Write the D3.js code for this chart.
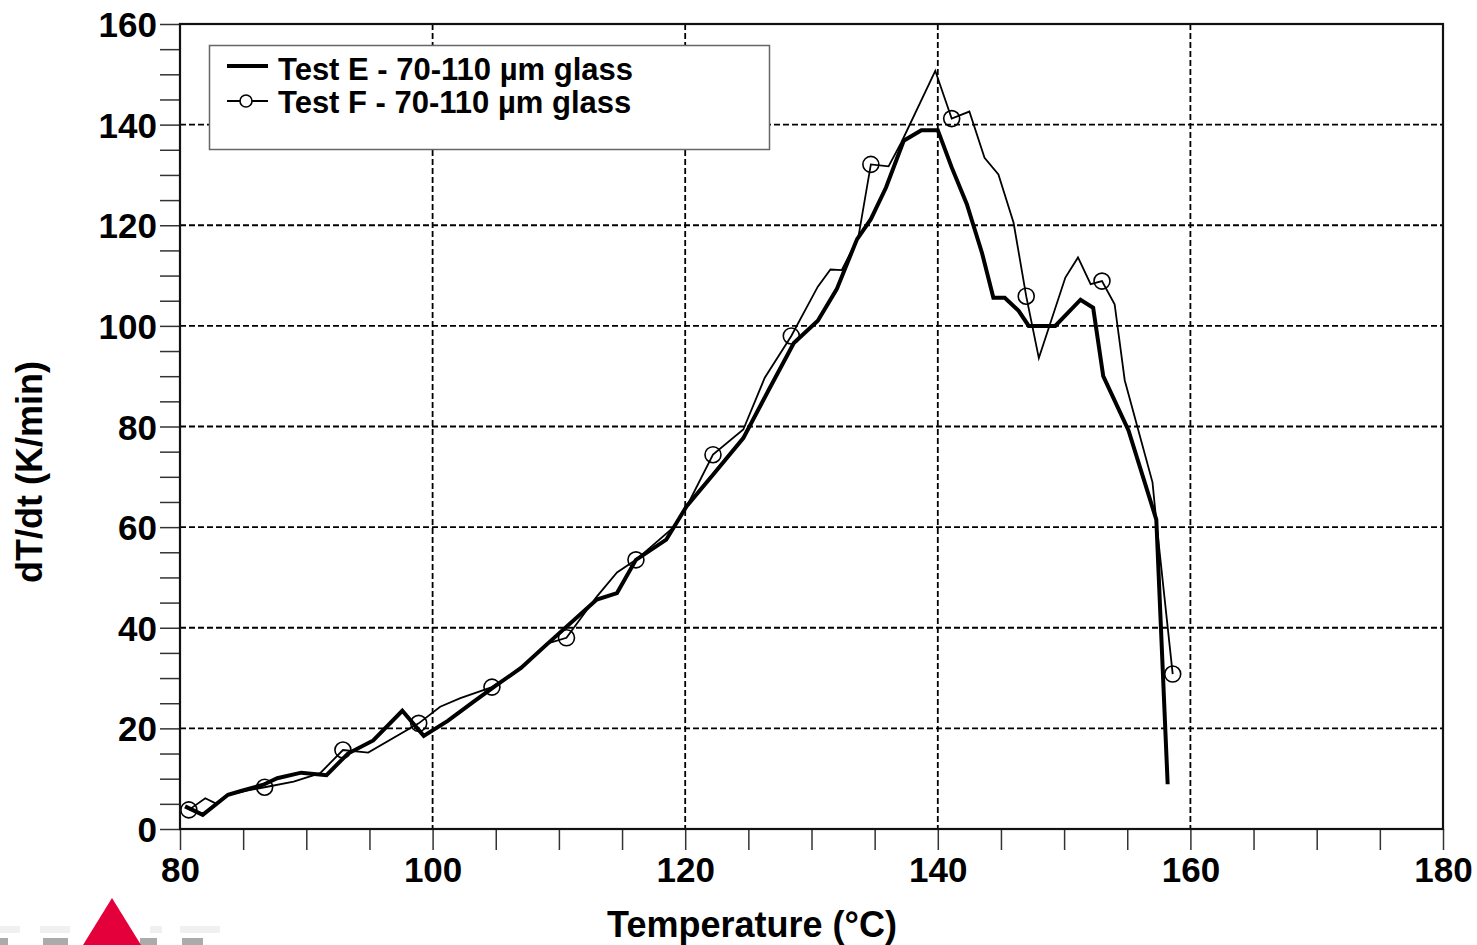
<!DOCTYPE html>
<html>
<head>
<meta charset="utf-8">
<script src="https://cdn.jsdelivr.net/npm/d3@7"></script>
<style>
    body { margin: 0; background: #fff; }
    svg { display: block; font-family: 'Liberation Sans', Arial, sans-serif; font-weight: bold; }
</style>
</head>
<body>
<div class="chart"></div>
<script>
(function () {
    // Test E (thick line)
    const eTemp = [80.4, 81.8, 83.8, 84.9, 86.6, 87.7, 89.6, 91.6, 93.3, 95.3, 97.6, 99.3, 101.2, 103.2, 105.0, 107.0, 109.0, 113.0, 114.6, 116.1, 118.5, 120.1, 122.2, 124.6, 126.6, 128.6, 130.5, 132.0, 133.6, 134.7, 135.9, 137.3, 138.7, 140.0, 141.1, 142.3, 143.5, 144.4, 145.3, 146.4, 147.2, 149.3, 151.3, 152.3, 153.1, 155.1, 157.3, 158.2];
    const eRate = [4.5, 2.8, 6.8, 7.6, 8.8, 10.1, 11.2, 10.7, 15.0, 17.6, 23.5, 18.5, 21.5, 25.2, 28.5, 32.0, 36.6, 45.6, 46.9, 53.5, 57.5, 64.1, 70.4, 77.7, 87.2, 96.6, 101.0, 107.3, 117.2, 121.2, 127.5, 136.8, 138.9, 138.9, 131.5, 124.2, 114.5, 105.6, 105.6, 103.0, 100.0, 100.0, 105.2, 103.6, 90.0, 79.2, 61.5, 8.9];

    // Test F (thin line, circle on some points)
    const fTemp = [80.7, 82.0, 82.9, 83.8, 85.2, 86.7, 89.0, 91.1, 92.9, 94.9, 98.9, 100.6, 102.2, 104.7, 107.0, 109.0, 110.6, 113.0, 114.6, 116.1, 119.0, 120.1, 122.2, 124.6, 126.3, 128.4, 130.5, 131.5, 132.4, 133.7, 134.7, 136.1, 137.1, 139.8, 141.1, 142.5, 143.7, 144.8, 146.0, 147.0, 148.0, 150.1, 151.1, 152.1, 153.0, 154.0, 154.8, 157.0, 157.3, 158.6];
    const fRate = [3.8, 6.1, 5.0, 6.8, 7.6, 8.3, 9.4, 11.1, 15.7, 15.2, 21.0, 24.3, 26.0, 28.2, 32.0, 36.8, 38.0, 46.2, 51.0, 53.5, 59.8, 64.0, 74.4, 79.4, 89.7, 98.0, 107.8, 111.2, 111.1, 117.5, 132.1, 131.7, 136.4, 150.7, 141.2, 142.6, 133.4, 130.1, 120.5, 105.9, 93.6, 109.6, 113.6, 108.3, 108.9, 104.3, 89.2, 68.9, 61.2, 30.8];
    const fMarked = [0, 5, 8, 10, 13, 16, 19, 22, 25, 30, 34, 39, 44, 49];

    const xTicks = d3.range(80, 181, 5);
    const yTicks = d3.range(0, 161, 5);
    const legendLabels = ['Test E - 70-110 µm glass', 'Test F - 70-110 µm glass'];

    const width = 1477, height = 945;
    const plot = { left: 180, right: 1443, top: 24, bottom: 829 };

    const x = d3.scaleLinear().domain([80, 180]).range([plot.left, plot.right]);
    const y = d3.scaleLinear().domain([0, 160]).range([plot.bottom, plot.top]);

    const svg = d3.select('.chart').append('svg')
        .attr('width', width)
        .attr('height', height);

    // logo in the corner (red triangle with greyed lettering)
    const logo = svg.append('g').classed('logo', true);
    [[0, 8], [43, 25], [140, 17], [182, 21]].forEach(function (r) {
        logo.append('rect')
            .attr('x', r[0]).attr('y', 938)
            .attr('width', r[1]).attr('height', 7)
            .attr('fill', '#888').attr('opacity', 0.7);
    });
    [[0, 20], [40, 30], [150, 12], [180, 40]].forEach(function (r) {
        logo.append('rect')
            .attr('x', r[0]).attr('y', 926)
            .attr('width', r[1]).attr('height', 7)
            .attr('fill', '#e6e6e6').attr('opacity', 0.6);
    });
    logo.append('path')
        .attr('d', 'M112,898 L141,945 L83,945 Z')
        .attr('fill', '#e4003a');

    // grid
    const grid = svg.append('g').classed('grid', true)
        .attr('stroke', '#000')
        .attr('stroke-width', 1.8)
        .attr('stroke-dasharray', '6,3');
    grid.selectAll('line.gx')
        .data([100, 120, 140, 160])
        .join('line')
        .attr('x1', d => x(d)).attr('x2', d => x(d))
        .attr('y1', plot.top).attr('y2', plot.bottom);
    grid.selectAll('line.gy')
        .data([20, 40, 60, 80, 100, 120, 140])
        .join('line')
        .attr('class', 'gy')
        .attr('x1', plot.left).attr('x2', plot.right)
        .attr('y1', d => y(d)).attr('y2', d => y(d));

    // axes
    const xAxis = d3.axisBottom(x)
        .tickValues(xTicks)
        .tickSize(21)
        .tickPadding(7)
        .tickFormat(d => d % 20 === 0 ? d : '');
    const yAxis = d3.axisLeft(y)
        .tickValues(yTicks)
        .tickSize(20)
        .tickPadding(3)
        .tickFormat(d => d % 20 === 0 ? d : '');

    const gx = svg.append('g')
        .attr('transform', `translate(0,${plot.bottom})`)
        .call(xAxis);
    const gy = svg.append('g')
        .attr('transform', `translate(${plot.left},0)`)
        .call(yAxis);

    [gx, gy].forEach(function (g) {
        g.select('.domain').remove();
        g.selectAll('.tick line').attr('stroke', '#333').attr('stroke-width', 1.5);
        g.selectAll('.tick text')
            .attr('fill', '#000')
            .style('font-size', '35px')
            .style('font-family', "'Liberation Sans', Arial, sans-serif")
            .style('font-weight', 'bold');
    });
    gy.selectAll('.tick text').attr('dy', '0.36em');

    // series
    const line = d3.line().x(d => x(d[0])).y(d => y(d[1]));
    const eData = eTemp.map((t, i) => [t, eRate[i]]);
    const fData = fTemp.map((t, i) => [t, fRate[i]]);

    svg.append('path')
        .datum(fData)
        .attr('fill', 'none')
        .attr('stroke', '#000')
        .attr('stroke-width', 1.8)
        .attr('d', line);

    svg.append('path')
        .datum(eData)
        .attr('fill', 'none')
        .attr('stroke', '#000')
        .attr('stroke-width', 4)
        .attr('d', line);

    svg.append('g').selectAll('circle')
        .data(fMarked.map(i => fData[i]))
        .join('circle')
        .attr('cx', d => x(d[0]))
        .attr('cy', d => y(d[1]))
        .attr('r', 8)
        .attr('fill', 'none')
        .attr('stroke', '#000')
        .attr('stroke-width', 1.6);

    // frame
    svg.append('rect')
        .attr('x', plot.left).attr('y', plot.top)
        .attr('width', plot.right - plot.left)
        .attr('height', plot.bottom - plot.top)
        .attr('fill', 'none')
        .attr('stroke', '#111')
        .attr('stroke-width', 2.2);

    // legend
    const legend = svg.append('g').classed('legend', true);
    legend.append('rect')
        .attr('x', 209.5).attr('y', 45.5)
        .attr('width', 560).attr('height', 104)
        .attr('fill', '#fff')
        .attr('stroke', '#666')
        .attr('stroke-width', 1.5);
    legend.append('line')
        .attr('x1', 227).attr('x2', 268)
        .attr('y1', 66).attr('y2', 66)
        .attr('stroke', '#000').attr('stroke-width', 4);
    legend.append('line')
        .attr('x1', 227).attr('x2', 268)
        .attr('y1', 101).attr('y2', 101)
        .attr('stroke', '#000').attr('stroke-width', 1.8);
    legend.append('circle')
        .attr('cx', 246).attr('cy', 101).attr('r', 6)
        .attr('fill', '#fff').attr('stroke', '#000').attr('stroke-width', 1.6);
    legend.selectAll('text')
        .data(legendLabels)
        .join('text')
        .attr('x', 278)
        .attr('y', (d, i) => 80 + i * 33)
        .style('font-size', '31px')
        .text(d => d);

    // axis titles
    svg.append('text')
        .attr('x', 752).attr('y', 937)
        .attr('text-anchor', 'middle')
        .style('font-size', '36px')
        .text('Temperature (°C)');
    svg.append('text')
        .attr('transform', 'translate(42,472) rotate(-90)')
        .attr('text-anchor', 'middle')
        .style('font-size', '36px')
        .text('dT/dt (K/min)');
})();
</script>
</body>
</html>
